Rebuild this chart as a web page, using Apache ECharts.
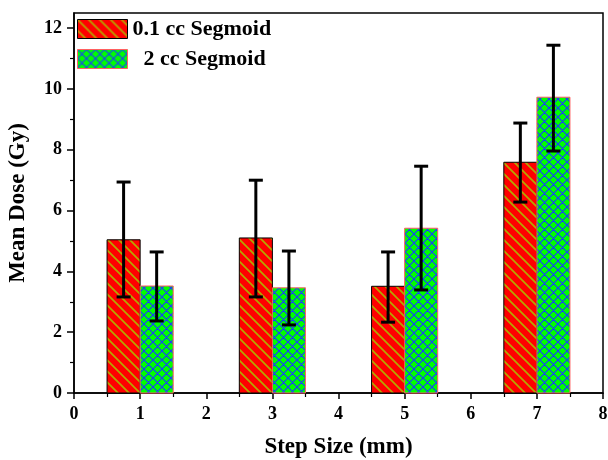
<!DOCTYPE html>
<html><head><meta charset="utf-8">
<script src="https://cdn.jsdelivr.net/npm/echarts@6/dist/echarts.min.js"></script>
<style>html,body{margin:0;padding:0;background:#fff}#c{width:608px;height:460px}</style>
</head><body><div id="c"></div>
<script>
const seriesNames = ['0.1 cc Segmoid', '  2 cc Segmoid'];
const positions = [1, 3, 5, 7];
const mean01 = [5.04, 5.10, 3.51, 7.59];
const low01 = [3.16, 3.16, 2.33, 6.28];
const high01 = [6.94, 7.00, 4.64, 8.88];
const mean2 = [3.52, 3.46, 5.42, 9.73];
const low2 = [2.37, 2.24, 3.39, 7.96];
const high2 = [4.64, 4.67, 7.46, 11.44];
const xTicks = [0, 1, 2, 3, 4, 5, 6, 7, 8];
const yTicks = [0, 2, 4, 6, 8, 10, 12];

function makePattern(kind) {
  const c = document.createElement('canvas');
  const g = c.getContext('2d');
  if (kind === 'red') {
    const s = 11;
    c.width = s; c.height = s;
    g.fillStyle = '#ff0000'; g.fillRect(0, 0, s, s);
    g.strokeStyle = '#b4a800'; g.lineWidth = 1.7;
    g.beginPath();
    g.moveTo(-2, -2); g.lineTo(s + 2, s + 2);
    g.moveTo(-2, s - 2); g.lineTo(2, s + 2);
    g.moveTo(s - 2, -2); g.lineTo(s + 2, 2);
    g.stroke();
  } else {
    const s = 9;
    c.width = s; c.height = s;
    g.fillStyle = '#00ff00'; g.fillRect(0, 0, s, s);
    g.strokeStyle = '#1a3cff'; g.lineWidth = 1.1;
    g.beginPath();
    g.moveTo(-2, -2); g.lineTo(s + 2, s + 2);
    g.moveTo(-2, s - 2); g.lineTo(2, s + 2);
    g.moveTo(s - 2, -2); g.lineTo(s + 2, 2);
    g.moveTo(-2, s + 2); g.lineTo(s + 2, -2);
    g.moveTo(-2, 2); g.lineTo(2, -2);
    g.moveTo(s - 2, s + 2); g.lineTo(s + 2, s - 2);
    g.stroke();
  }
  return { image: c, repeat: 'repeat' };
}
const redPat = makePattern('red');
const greenPat = makePattern('green');

const HALF = 0.5;
function barSeries(name, means, side, pat, border) {
  return {
    name: name, type: 'custom',
    itemStyle: { color: pat, borderColor: border, borderWidth: 1 },
    data: positions.map((p, i) => [p, means[i]]),
    renderItem: function (params, api) {
      const x = api.value(0), v = api.value(1);
      const x0 = side < 0 ? x - HALF : x;
      const x1 = side < 0 ? x : x + HALF;
      const a = api.coord([x0, v]);
      const b = api.coord([x1, 0]);
      return { type: 'rect', shape: { x: a[0], y: a[1], width: b[0] - a[0], height: b[1] - a[1] },
        style: { fill: pat, stroke: border, lineWidth: 1 } };
    },
    z: 2
  };
}
function errSeries(lows, highs, side) {
  return {
    type: 'custom', silent: true, z: 5,
    data: positions.map((p, i) => [p + side * HALF / 2, lows[i], highs[i]]),
    renderItem: function (params, api) {
      const x = api.value(0);
      const lo = api.coord([x, api.value(1)]);
      const hi = api.coord([x, api.value(2)]);
      const cap = 7;
      const st = { stroke: '#000', lineWidth: 3 };
      return { type: 'group', children: [
        { type: 'line', shape: { x1: lo[0], y1: lo[1], x2: hi[0], y2: hi[1] }, style: st },
        { type: 'line', shape: { x1: lo[0] - cap, y1: lo[1], x2: lo[0] + cap, y2: lo[1] }, style: st },
        { type: 'line', shape: { x1: hi[0] - cap, y1: hi[1], x2: hi[0] + cap, y2: hi[1] }, style: st }
      ]};
    }
  };
}

const font = 'Liberation Serif';
const chart = echarts.init(document.getElementById('c'), null, { renderer: 'canvas' });
chart.setOption({
  animation: false,
  backgroundColor: '#fff',
  grid: { left: 74, right: 5, top: 13, bottom: 67, outerBoundsMode: 'none', containLabel: false, show: true, borderColor: '#000', borderWidth: 1.5, backgroundColor: 'transparent' },
  legend: {
    orient: 'vertical', left: 72, top: 13, itemWidth: 50, itemHeight: 19, itemGap: 8,
    textStyle: { fontFamily: font, fontWeight: 'bold', fontSize: 22, lineHeight: 19, color: '#000' },
    data: [
      { name: seriesNames[0], icon: 'rect', itemStyle: { color: redPat, borderColor: '#000', borderWidth: 1 } },
      { name: seriesNames[1], icon: 'rect', itemStyle: { color: greenPat, borderColor: '#ff6060', borderWidth: 1 } }
    ]
  },
  xAxis: {
    type: 'value', min: 0, max: 8, interval: 1,
    name: 'Step Size (mm)', nameLocation: 'middle', nameGap: 43,
    nameTextStyle: { fontFamily: font, fontWeight: 'bold', fontSize: 23, color: '#000' },
    axisLine: { lineStyle: { color: '#000', width: 1.5 } },
    axisTick: { length: 6, lineStyle: { color: '#000', width: 1.5 } },
    minorTick: { show: true, splitNumber: 2, length: 4, lineStyle: { color: '#000', width: 1.2 } },
    axisLabel: { fontFamily: font, fontWeight: 'bold', fontSize: 18, color: '#000', margin: 12, customValues: xTicks },
    splitLine: { show: false }
  },
  yAxis: {
    type: 'value', min: 0, max: 12.5, interval: 2,
    name: 'Mean Dose (Gy)', nameLocation: 'middle', nameGap: 44,
    nameTextStyle: { fontFamily: font, fontWeight: 'bold', fontSize: 23, color: '#000' },
    axisLine: { lineStyle: { color: '#000', width: 1.5 } },
    axisTick: { length: 7, lineStyle: { color: '#000', width: 1.5 }, customValues: yTicks },
    minorTick: { show: true, splitNumber: 2, length: 4, lineStyle: { color: '#000', width: 1.2 } },
    axisLabel: { fontFamily: font, fontWeight: 'bold', fontSize: 18, color: '#000', margin: 12, customValues: yTicks },
    splitLine: { show: false }
  },
  series: [
    barSeries(seriesNames[0], mean01, -1, redPat, '#000'),
    barSeries(seriesNames[1], mean2, 1, greenPat, '#ff6060'),
    errSeries(low01, high01, -1),
    errSeries(low2, high2, 1)
  ]
});
</script></body></html>
